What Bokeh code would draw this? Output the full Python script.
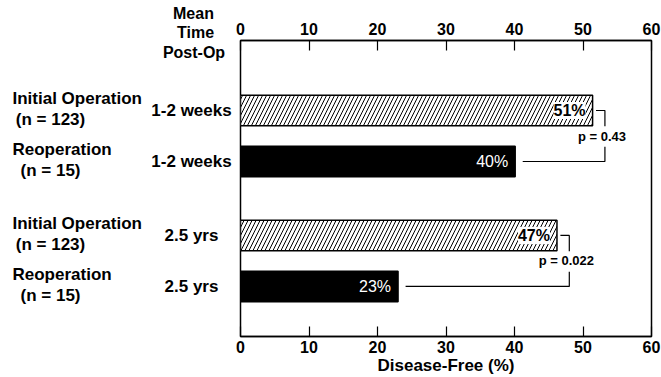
from bokeh.plotting import figure
from bokeh.layouts import row
from bokeh.models import Range1d, LinearAxis, FixedTicker, Label, Title
from bokeh.core.properties import value
from bokeh.embed import file_html
from bokeh.resources import INLINE

# ---------------- data ----------------
group_names = ["Initial Operation", "Reoperation", "Initial Operation", "Reoperation"]
group_sizes = ["(n = 123)", "(n = 15)", "(n = 123)", "(n = 15)"]
time_labels = ["1-2 weeks", "1-2 weeks", "2.5 yrs", "2.5 yrs"]
disease_free = [51.4, 40.1, 46.2, 23.0]
value_labels = ["51%", "40%", "47%", "23%"]
is_initial = [True, False, True, False]
comparison_group = [0, 0, 1, 1]
p_values = ["p = 0.43", "p = 0.022"]
x_ticks = [0, 10, 20, 30, 40, 50, 60]
header_lines = ["Mean", "Time", "Post-Op"]
x_label = "Disease-Free (%)"

# ---------------- layout ----------------
FONT = "Liberation Sans"
GROUP_GAP = 0.45
rows = [i + GROUP_GAP * g for i, g in enumerate(comparison_group)]

H = 377            # canvas height
UNIT = 51.0        # px per row
ROW0 = 110.0       # px from top to first row centre
TOP, BOTTOM = 40, 41  # frame borders (frames of both panels are aligned)
LEFT_W = 235
MAIN_W = 661 - LEFT_W

y_rng = Range1d(rows[0] + (H - BOTTOM - ROW0) / UNIT, rows[0] - (ROW0 - TOP) / UNIT)

# ---------------- left label panel ----------------
lf = figure(width=LEFT_W, height=H, x_range=Range1d(0, LEFT_W), y_range=y_rng,
            output_backend="svg", toolbar_location=None,
            x_axis_location=None, y_axis_location=None,
            min_border_left=0, min_border_right=0, min_border_top=TOP,
            min_border_bottom=BOTTOM)
lf.outline_line_color = None
lf.xgrid.grid_line_color = None
lf.ygrid.grid_line_color = None

txt = dict(text_font=value(FONT), text_font_style="bold", text_font_size="17px",
           text_color="black", text_baseline="middle")
lf.text(x=[12] * len(rows), y=[r - 0.235 for r in rows], text=group_names,
        text_align="left", **txt)
lf.text(x=[50] * len(rows), y=[r + 0.17 for r in rows], text=group_sizes,
        text_align="center", **txt)
lf.text(x=[191] * len(rows), y=rows, text=time_labels, text_align="center", **txt)
# last header line sits inside the frame, the first two in the panel above it
hdr = dict(txt, text_font_size="16px")
lf.text(x=[193.5], y=[rows[0] - 1.147], text=[header_lines[2]],
        text_align="center", **hdr)
for line, left_edge in ((header_lines[1], 176.5), (header_lines[0], 172.5)):
    lf.add_layout(Title(text=line, align="left", offset=left_edge, standoff=0,
                        text_line_height=0.85,
                        text_font=FONT, text_font_style="bold",
                        text_font_size="16px", text_color="black"), "above")

# ---------------- main chart ----------------
p = figure(width=MAIN_W, height=H,
           x_range=Range1d(0, 60), y_range=y_rng,
           output_backend="svg", toolbar_location=None,
           y_axis_location=None,
           min_border_left=5, min_border_right=10,
           min_border_top=TOP, min_border_bottom=BOTTOM)
p.xgrid.grid_line_color = None
p.ygrid.grid_line_color = None
p.outline_line_color = "black"
p.outline_line_width = 1.5

top_axis = LinearAxis()
p.add_layout(top_axis, "above")

for ax in p.xaxis:
    ax.ticker = FixedTicker(ticks=x_ticks)
    ax.axis_line_color = "black"
    ax.axis_line_width = 1.5
    ax.major_tick_in = 10
    ax.major_tick_out = 0
    ax.major_tick_line_color = "black"
    ax.major_tick_line_width = 1.2
    ax.minor_tick_line_color = None
    ax.major_label_text_font = FONT
    ax.major_label_text_font_style = "bold"
    ax.major_label_text_font_size = "16px"
    ax.major_label_text_color = "black"

top_axis.major_label_standoff = 6
bottom = p.below[0]
bottom.major_label_standoff = 4
bottom.axis_label = x_label
bottom.axis_label_text_font = FONT
bottom.axis_label_text_font_style = "bold"
bottom.axis_label_text_font_size = "17px"
bottom.axis_label_text_color = "black"
bottom.axis_label_standoff = 0

# bars
hy = [r for r, h in zip(rows, is_initial) if h]
hv = [v for v, h in zip(disease_free, is_initial) if h]
sy = [r for r, h in zip(rows, is_initial) if not h]
sv = [v for v, h in zip(disease_free, is_initial) if not h]

p.hbar(y=hy, left=0, right=hv, height=0.6, fill_color="white",
       line_color="black", line_width=1.5,
       hatch_pattern="/", hatch_scale=8, hatch_weight=1, hatch_color="black")
p.hbar(y=sy, left=0, right=sv, height=0.6, fill_color="black",
       line_color="black", line_width=1.5)

# value labels
for r, v, t, h in zip(rows, disease_free, value_labels, is_initial):
    kw = dict(x=v, y=r, x_offset=-7, text=t, text_align="right",
              text_baseline="middle", text_font=FONT, text_font_size="16px")
    if h:
        p.add_layout(Label(text_color="black", text_font_style="bold",
                           background_fill_color="white", **kw))
    else:
        p.add_layout(Label(text_color="white", text_font_style="normal", **kw))

# brackets with p-values
for k, ptxt in enumerate(p_values):
    idx = [i for i, g in enumerate(comparison_group) if g == k]
    a, b = idx[0], idx[1]
    xb = max(disease_free[a], disease_free[b]) + 1.8
    ymid = (rows[a] + rows[b]) / 2
    xs = [[disease_free[a] + 0.5, xb, xb], [xb, xb, disease_free[b] + 1.1]]
    ys = [[rows[a], rows[a], ymid - 0.19], [ymid + 0.21, rows[b], rows[b]]]
    p.multi_line(xs, ys, line_color="black", line_width=1.2)
    p.add_layout(Label(x=xb, y=ymid, x_offset=-3, text=ptxt, text_align="center",
                       text_baseline="middle", text_font=FONT, text_font_style="bold",
                       text_font_size="13px", text_color="black"))

layout = row(lf, p, spacing=0)
open("out.html", "w").write(file_html(layout, INLINE))
